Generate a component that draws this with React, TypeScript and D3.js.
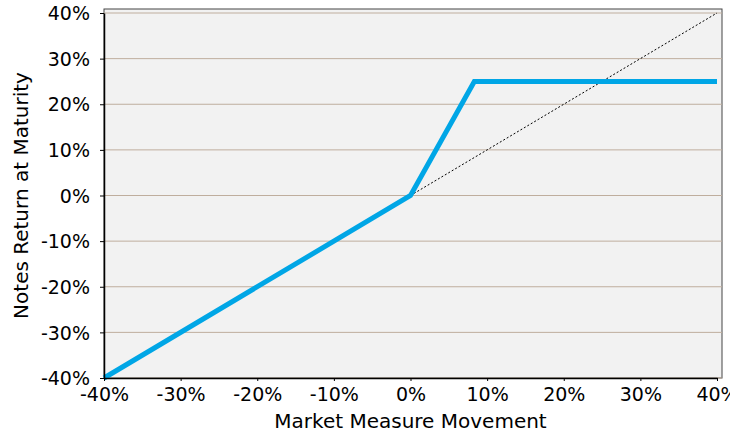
import React, { useEffect, useRef } from 'react';
import * as d3 from 'd3';

// payoff points (market move %, notes return %)
const marketMove = [-40, 0, 8.33, 40];
const notesReturn = [-40, 0, 25, 25];
const refLine = [0, 40];
const ticks = [-40, -30, -20, -10, 0, 10, 20, 30, 40];

const App: React.FC = () => {
  const svgRef = useRef<SVGSVGElement>(null);

  useEffect(() => {
    if (!svgRef.current) return;
    const width = 730;
    const height = 440;
    const margin = { top: 13, right: 13, bottom: 62, left: 104 };
    const innerWidth = width - margin.left - margin.right;
    const innerHeight = height - margin.top - margin.bottom;

    const svg = d3.select(svgRef.current);
    svg.selectAll('*').remove();

    const x = d3.scaleLinear().domain([-40, 40]).range([0, innerWidth]);
    const y = d3.scaleLinear().domain([-40, 40]).range([innerHeight, 0]);

    const g = svg.append('g').attr('transform', `translate(${margin.left},${margin.top})`);

    // background frame
    g.append('rect')
      .attr('x', 0)
      .attr('y', -4)
      .attr('width', innerWidth + 5)
      .attr('height', innerHeight + 4)
      .attr('fill', '#f2f2f2')
      .attr('stroke', '#444')
      .attr('stroke-width', 1);

    // gridlines
    g.append('g')
      .selectAll('line')
      .data(ticks)
      .enter()
      .append('line')
      .attr('x1', 0)
      .attr('x2', innerWidth + 5)
      .attr('y1', d => y(d))
      .attr('y2', d => y(d))
      .attr('stroke', '#bfae9e')
      .attr('stroke-width', 1);

    // dotted reference line
    g.append('line')
      .attr('x1', x(refLine[0]))
      .attr('y1', y(refLine[0]))
      .attr('x2', x(refLine[1]))
      .attr('y2', y(refLine[1]))
      .attr('stroke', '#000')
      .attr('stroke-width', 1)
      .attr('stroke-dasharray', '2,2');

    // payoff line
    const pts = marketMove.map((m, i) => ({ m, r: notesReturn[i] }));
    const line = d3.line<{ m: number; r: number }>()
      .x(d => x(d.m))
      .y(d => y(d.r));
    g.append('path')
      .datum(pts)
      .attr('fill', 'none')
      .attr('stroke', '#00a6e6')
      .attr('stroke-width', 5)
      .attr('d', line);

    // axes
    const xAxis = g.append('g')
      .attr('transform', `translate(0,${innerHeight})`)
      .call(d3.axisBottom(x).tickValues(ticks).tickSize(3).tickSizeOuter(0).tickFormat(d => `${d}%`));
    const yAxis = g.append('g')
      .call(d3.axisLeft(y).tickValues(ticks).tickSize(4).tickSizeOuter(0).tickFormat(d => `${d}%`));
    [xAxis, yAxis].forEach(a => {
      a.selectAll('text')
        .attr('font-family', 'DejaVu Sans')
        .attr('font-size', '19px')
        .attr('fill', '#000');
      a.selectAll('line').attr('stroke', '#000');
      a.select('.domain').attr('stroke', '#000').attr('stroke-width', 1.5);
    });
    xAxis.selectAll('text').attr('dy', 0).attr('y', 23);
    yAxis.selectAll('text').attr('x', -14).attr('dy', '0.35em');

    // axis titles
    g.append('text')
      .attr('x', innerWidth / 2)
      .attr('y', innerHeight + 50)
      .attr('text-anchor', 'middle')
      .attr('font-family', 'DejaVu Sans')
      .attr('font-size', '20px')
      .attr('fill', '#000')
      .text('Market Measure Movement');

    g.append('text')
      .attr('transform', 'rotate(-90)')
      .attr('x', -innerHeight / 2)
      .attr('y', -76)
      .attr('text-anchor', 'middle')
      .attr('font-family', 'DejaVu Sans')
      .attr('font-size', '20px')
      .attr('fill', '#000')
      .text('Notes Return at Maturity');
  }, []);

  return (
    <svg
      ref={svgRef}
      width={730}
      height={440}
      style={{ position: 'absolute', left: 0, top: 0, background: '#fff' }}
    />
  );
};

export default App;
